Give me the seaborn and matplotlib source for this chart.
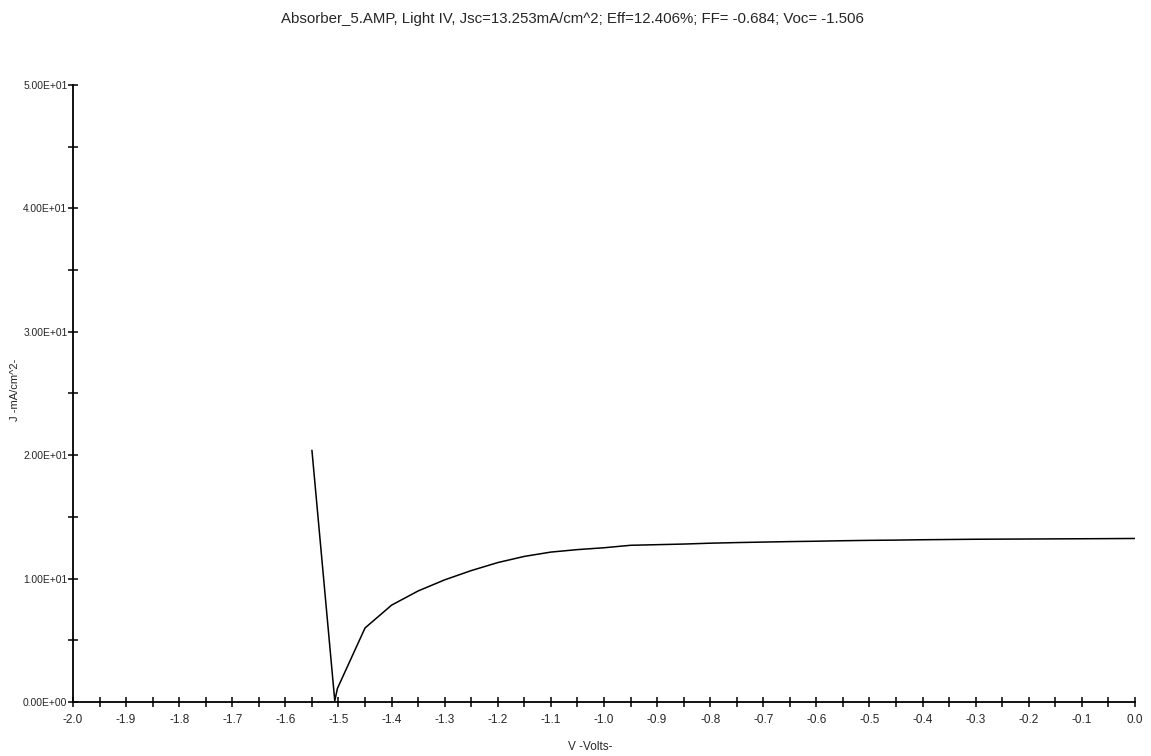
import numpy as np
import pandas as pd
import matplotlib
matplotlib.use("Agg")
import matplotlib.pyplot as plt
from matplotlib import font_manager
from matplotlib.ticker import MultipleLocator, FuncFormatter
import seaborn as sns

# Light J-V sweep from the AMPS simulation (voltage in V, |J| in mA/cm^2)
voltage = [-1.55, -1.507, -1.502, -1.45, -1.40, -1.35, -1.30, -1.25, -1.20,
           -1.15, -1.10, -1.05, -1.00, -0.95, -0.90, -0.85, -0.80, -0.75,
           -0.70, -0.65, -0.60, -0.55, -0.50, -0.45, -0.40, -0.35, -0.30,
           -0.25, -0.20, -0.15, -0.10, -0.05, 0.00]
current = [20.4, 0.1, 1.1, 6.0, 7.85, 9.0, 9.9, 10.65, 11.3,
           11.8, 12.15, 12.35, 12.5, 12.7, 12.75, 12.8, 12.87, 12.92,
           12.96, 13.0, 13.03, 13.07, 13.1, 13.12, 13.15, 13.17, 13.19,
           13.2, 13.21, 13.22, 13.23, 13.24, 13.253]

title = ("Absorber_5.AMP, Light IV, Jsc=13.253mA/cm^2; Eff=12.406%; "
         "FF= -0.684; Voc= -1.506")
x_label = "V -Volts-"
y_label = "J -mA/cm^2-"

sns.set_style("white")
available = {f.name for f in font_manager.fontManager.ttflist}
family = "Liberation Sans Narrow" if "Liberation Sans Narrow" in available else "Liberation Sans"
plt.rcParams["font.family"] = [family, "DejaVu Sans"]
plt.rcParams["axes.unicode_minus"] = False

df = pd.DataFrame({"V": voltage, "J": current})

fig = plt.figure(figsize=(11.51, 7.56), dpi=100)
ax = fig.add_axes([0.0634, 0.0714, 0.9227, 0.8162])

sns.lineplot(data=df, x="V", y="J", sort=False, estimator=None,
             color="black", linewidth=1.1, ax=ax)

ax.set_xlim(-2.0, 0.0)
ax.set_ylim(0, 50)

for side in ("top", "right"):
    ax.spines[side].set_visible(False)
for side in ("left", "bottom"):
    ax.spines[side].set_color("black")
    ax.spines[side].set_linewidth(1.3)

ax.xaxis.set_major_locator(MultipleLocator(0.1))
ax.xaxis.set_minor_locator(MultipleLocator(0.05))
ax.yaxis.set_major_locator(MultipleLocator(10))
ax.yaxis.set_minor_locator(MultipleLocator(5))

ax.xaxis.set_major_formatter(FuncFormatter(
    lambda v, p: "0.0" if abs(v) < 1e-9 else f"{v:.1f}"))
ax.yaxis.set_major_formatter(FuncFormatter(lambda v, p: f"{v:.2E}"))

ax.tick_params(axis="both", which="both", direction="inout", length=7,
               width=1.1, color="black", bottom=True, left=True)
ax.tick_params(axis="x", which="major", labelsize=8.5, pad=5)
ax.tick_params(axis="y", which="major", labelsize=7.4, pad=0.5)

ax.set_xlabel(x_label, fontsize=8.5)
ax.xaxis.set_label_coords((590 - 73) / 1062, -39 / 617)
ax.set_ylabel(y_label, fontsize=8)
ax.yaxis.set_label_coords((20 - 73) / 1062, (702 - 390) / 617)
ax.grid(False)

fig.text(0.497, 0.975, title, ha="center", va="center", fontsize=10.8)

fig.savefig("out.png", dpi=100, facecolor="white")
